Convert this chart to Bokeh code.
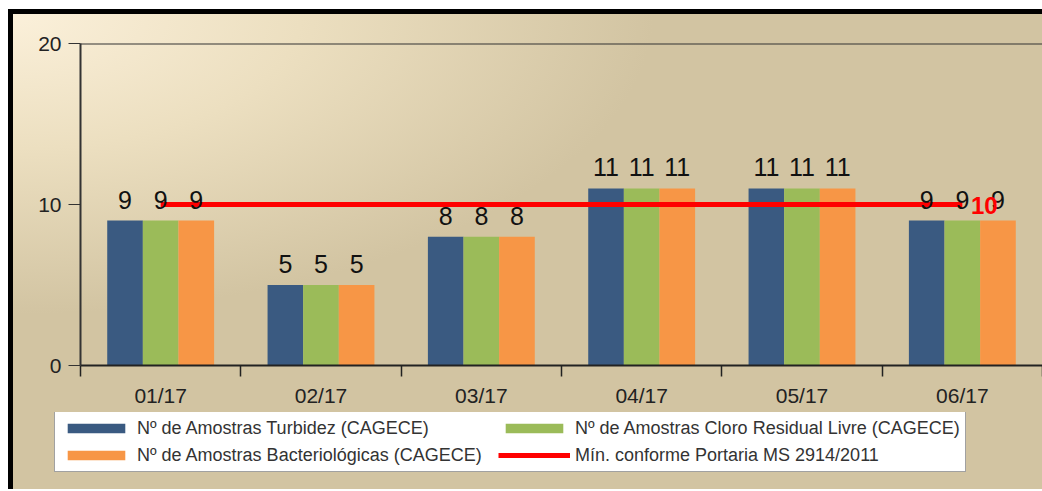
from bokeh.plotting import figure
from bokeh.layouts import column
from bokeh.models import (ColumnDataSource, FixedTicker, Span, Legend, LegendItem, Range1d)
from bokeh.core.properties import value
from bokeh.transform import dodge
from bokeh.embed import file_html
from bokeh.resources import INLINE

# ---------------- data ----------------
months = ["01/17", "02/17", "03/17", "04/17", "05/17", "06/17"]
turbidez = [9, 5, 8, 11, 11, 9]
cloro = [9, 5, 8, 11, 11, 9]
bacterio = [9, 5, 8, 11, 11, 9]
minimo = [10, 10, 10, 10, 10, 10]

name_turb = "Nº de Amostras Turbidez (CAGECE)"
name_cloro = "Nº de Amostras Cloro Residual Livre (CAGECE)"
name_bact = "Nº de Amostras Bacteriológicas (CAGECE)"
name_min = "Mín. conforme Portaria MS 2914/2011"

y_ticks = [0, 10, 20]

# ---------------- styles ----------------
C_BLUE = "#3a5a81"
C_GREEN = "#9bbb59"
C_ORANGE = "#f79646"
C_RED = "#ff0000"
FONT_NAME = "Liberation Sans"
FONT = value(FONT_NAME)
WIDTH = 1029

xc = [i + 0.5 for i in range(len(months))]
src = ColumnDataSource(dict(
    x=xc, turb=turbidez, cloro=cloro, bact=bacterio, minimo=minimo,
    turb_l=[str(v) for v in turbidez],
    cloro_l=[str(v) for v in cloro],
    bact_l=[str(v) for v in bacterio],
))
last_src = ColumnDataSource(dict(x=[xc[-1]], y=[minimo[-1]], t=[str(minimo[-1])]))

p = figure(width=WIDTH, height=398,
           x_range=Range1d(0, len(months)), y_range=Range1d(0, 20),
           output_backend="svg", toolbar_location=None,
           min_border_left=67, min_border_top=29, min_border_bottom=47,
           min_border_right=0)
p.frame_align = False
p.border_fill_color = None
p.background_fill_color = None
p.outline_line_color = None
p.xgrid.visible = False
p.ygrid.visible = False

W = 0.2222
r_turb = p.vbar(x=dodge("x", -W, range=p.x_range), top="turb", width=W,
                source=src, fill_color=C_BLUE, line_color=None)
r_cloro = p.vbar(x=dodge("x", 0, range=p.x_range), top="cloro", width=W,
                 source=src, fill_color=C_GREEN, line_color=None)
r_bact = p.vbar(x=dodge("x", W, range=p.x_range), top="bact", width=W,
                source=src, fill_color=C_ORANGE, line_color=None)

r_min = p.line(x="x", y="minimo", source=src, line_color=C_RED, line_width=5)

for off, col in [(-W, "turb"), (0, "cloro"), (W, "bact")]:
    p.text(x=dodge("x", off, range=p.x_range), y=col, text=col + "_l", source=src,
           text_align="center", text_baseline="bottom", y_offset=-12,
           text_font=FONT, text_font_size="25px", text_color="#111")

p.text(x="x", y="y", text="t", source=last_src, text_align="center",
       text_baseline="middle", x_offset=22, y_offset=1,
       text_font=FONT, text_font_size="24px", text_font_style="bold",
       text_color=C_RED)

# top frame line
p.add_layout(Span(location=20, dimension="width", line_color="#333", line_width=2))

# y axis
ya = p.yaxis[0]
ya.ticker = FixedTicker(ticks=y_ticks, minor_ticks=[])
ya.axis_line_color = "#333"
ya.axis_line_width = 2
ya.major_tick_out = 12
ya.major_tick_in = 0
ya.major_tick_line_color = "#333"
ya.major_tick_line_width = 1
ya.minor_tick_line_color = None
ya.major_label_standoff = 7
ya.major_label_text_font = FONT_NAME
ya.major_label_text_font_size = "21px"
ya.major_label_text_color = "#222"

# x axis
xa = p.xaxis[0]
xa.ticker = FixedTicker(ticks=xc, minor_ticks=list(range(len(months) + 1)))
xa.major_label_overrides = {x: m for x, m in zip(xc, months)}
xa.axis_line_color = "#222"
xa.axis_line_width = 2
xa.major_tick_line_color = None
xa.major_tick_out = 11
xa.major_tick_in = 0
xa.minor_tick_line_color = "#222"
xa.minor_tick_line_width = 1.5
xa.minor_tick_out = 11
xa.minor_tick_in = 0
xa.major_label_standoff = 7
xa.major_label_text_font = FONT_NAME
xa.major_label_text_font_size = "21px"
xa.major_label_text_color = "#222"

# ---------------- legend panel ----------------
LEG_H = 77
pl = figure(width=WIDTH, height=LEG_H, x_range=Range1d(0, 1), y_range=Range1d(0, 1),
            output_backend="svg", toolbar_location=None,
            x_axis_type=None, y_axis_type=None, min_border=0)
pl.frame_align = False
pl.border_fill_color = None
pl.background_fill_color = None
pl.outline_line_color = None
pl.xgrid.visible = False
pl.ygrid.visible = False
nan = float("nan")
lg_turb = pl.vbar(x=[nan], top=[nan], width=0.1, fill_color=C_BLUE, line_color=None)
lg_cloro = pl.vbar(x=[nan], top=[nan], width=0.1, fill_color=C_GREEN, line_color=None)
lg_bact = pl.vbar(x=[nan], top=[nan], width=0.1, fill_color=C_ORANGE, line_color=None)
lg_min = pl.line(x=[nan], y=[nan], line_color=C_RED, line_width=5)

legend = Legend(items=[
    LegendItem(label=name_turb, renderers=[lg_turb]),
    LegendItem(label=name_bact, renderers=[lg_bact]),
    LegendItem(label=name_cloro, renderers=[lg_cloro]),
    LegendItem(label=name_min, renderers=[lg_min]),
], location=(41, LEG_H - 60), ncols=2, orientation="vertical")
legend.background_fill_color = "white"
legend.background_fill_alpha = 1
legend.border_line_color = "#444"
legend.border_line_width = 1
legend.label_text_font = FONT_NAME
legend.label_text_font_size = "18px"
legend.label_text_color = "#333"
legend.glyph_width = 72
legend.glyph_height = 12
legend.label_standoff = 5
legend.label_height = 22
legend.label_width = 356
legend.padding = 5
legend.spacing = 5
legend.margin = 0
pl.add_layout(legend, "center")

layout = column(p, pl, spacing=0, margin=(9, 0, 0, 8))
layout.styles = {
    "border-top": "5px solid #000",
    "border-left": "5px solid #000",
    "background": "radial-gradient(ellipse 640px 300px at 0px 0px, #fbf0da 0%, #ecdfc0 45%, #d2c4a2 100%)",
    "background-color": "#d2c4a2",
}

open("out.html", "w").write(file_html(layout, INLINE))
